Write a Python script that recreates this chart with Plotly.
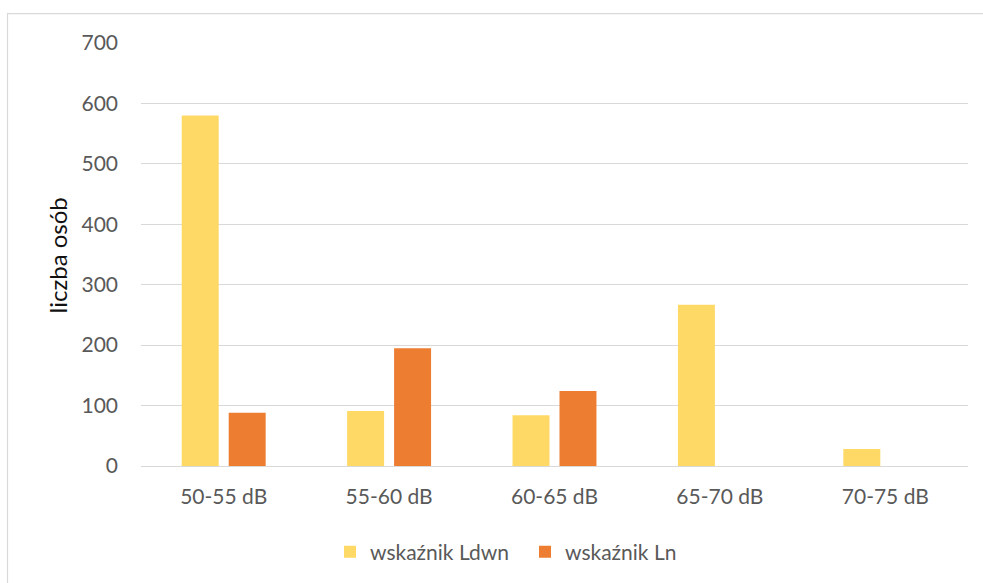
import plotly.graph_objects as go

categories = ["50-55 dB", "55-60 dB", "60-65 dB", "65-70 dB", "70-75 dB"]
ldwn = [580, 91, 84, 267, 28]
ln = [88, 195, 124, 0, 0]
y_ticks = [0, 100, 200, 300, 400, 500, 600, 700]

W, H = 983, 583
L, R, T, B = 141, 15, 43, 116
pw, ph = W - L - R, H - T - B

def px_x(p):
    return (p - L) / pw

def px_y(p):
    return (H - B - p) / ph

font_family = "Lato, 'Open Sans', sans-serif"
gray_text = "#595959"
fs = 21

fig = go.Figure()
fig.add_trace(go.Bar(x=categories, y=ldwn, name="wskaźnik Ldwn",
                     marker=dict(color="#FFD966", line=dict(width=0))))
fig.add_trace(go.Bar(x=categories, y=ln, name="wskaźnik Ln",
                     marker=dict(color="#ED7D31", line=dict(width=0))))

fig.update_layout(
    width=W, height=H,
    margin=dict(l=L, r=R, t=T, b=B),
    paper_bgcolor="white", plot_bgcolor="white",
    barmode="group", bargap=0.432, bargroupgap=0.213,
    font=dict(family=font_family, size=fs, color=gray_text),
    showlegend=True,
    legend=dict(orientation="h", x=px_x(330), y=px_y(552), xanchor="left", yanchor="middle",
                font=dict(size=fs, color=gray_text), entrywidth=150, entrywidthmode="pixels",
                itemwidth=30),
    xaxis=dict(showgrid=False, showline=False, ticks="", ticklabelstandoff=16,
               tickfont=dict(size=fs, color=gray_text)),
    yaxis=dict(range=[0, 700], tickvals=y_ticks, showgrid=True, gridcolor="#D9D9D9", gridwidth=1,
               zeroline=True, zerolinecolor="#D9D9D9", zerolinewidth=1, showline=False,
               ticks="", ticklabelstandoff=22, tickfont=dict(size=fs, color=gray_text)),
    annotations=[dict(text="liczba osób", xref="paper", yref="paper",
                      x=px_x(57), y=px_y(256), xanchor="center", yanchor="middle",
                      textangle=-90, showarrow=False,
                      font=dict(size=24, color="#111111", family=font_family))],
    shapes=[dict(type="rect", xref="paper", yref="paper",
                 x0=px_x(7.5), x1=px_x(1000), y0=px_y(620), y1=px_y(13.5),
                 line=dict(color="#D9D9D9", width=1.2), fillcolor="rgba(0,0,0,0)", layer="below")],
)

fig.write_html("out.html")
